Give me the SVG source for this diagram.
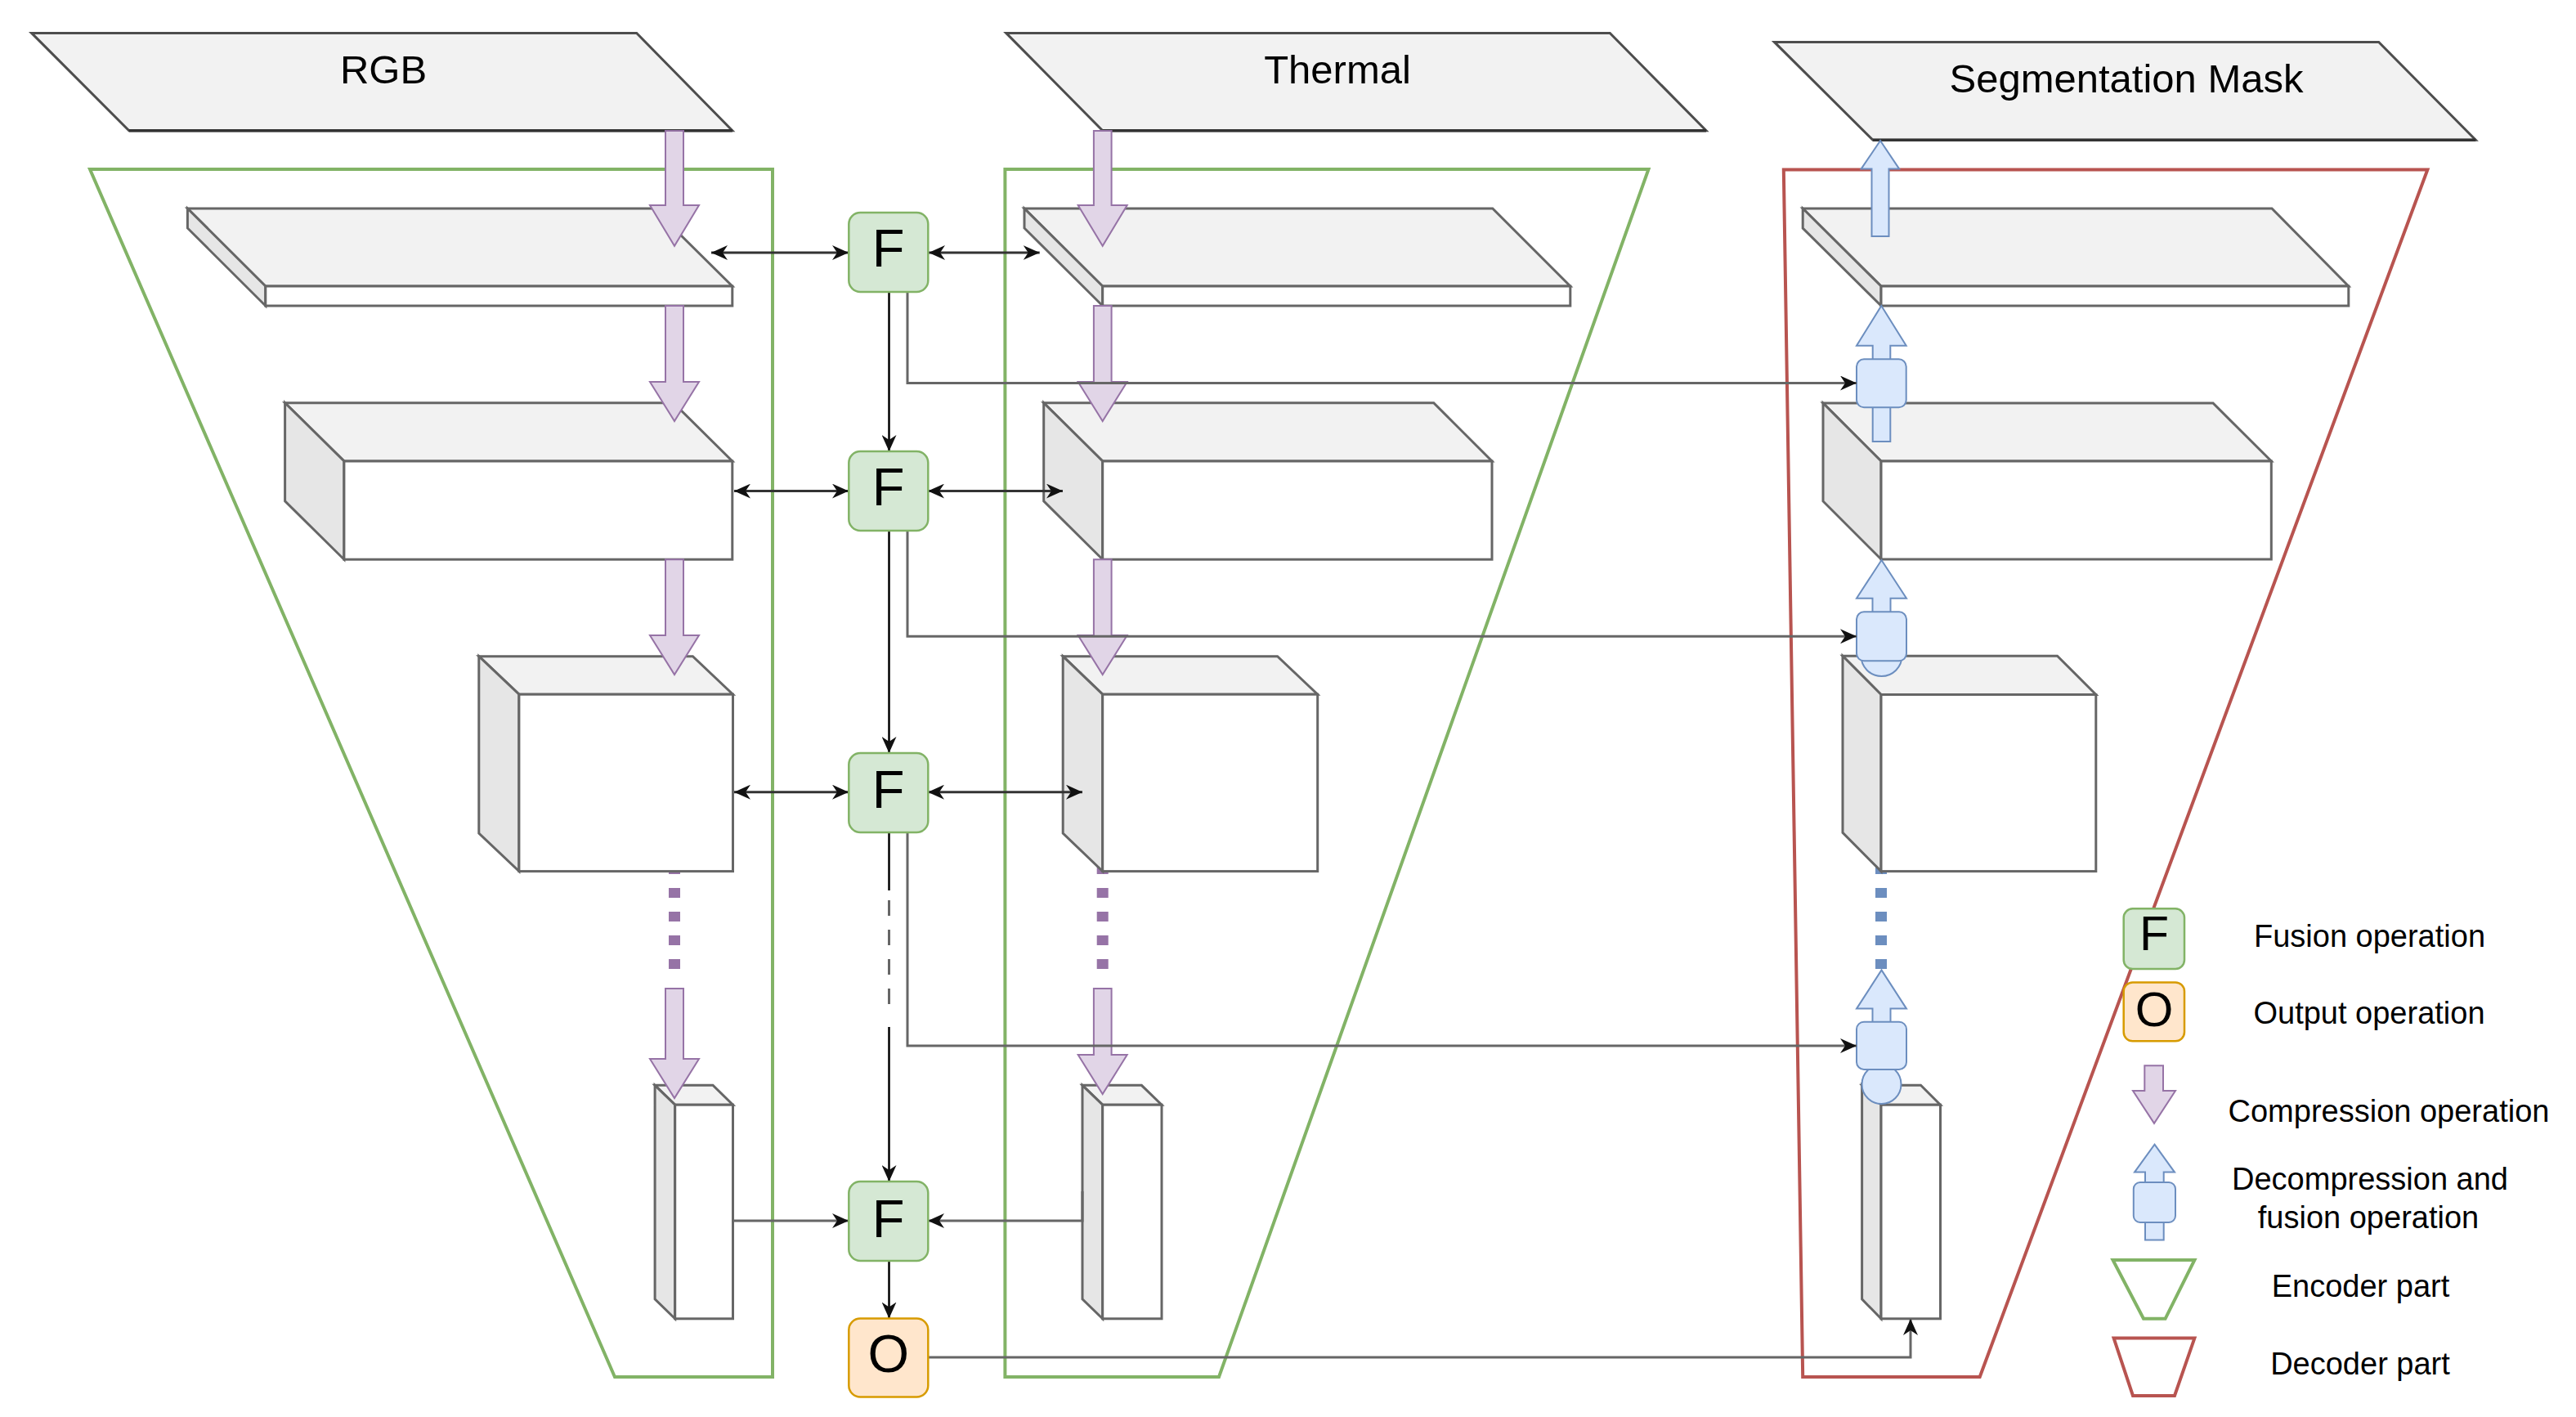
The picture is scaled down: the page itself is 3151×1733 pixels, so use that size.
<svg xmlns="http://www.w3.org/2000/svg" width="3151" height="1733" viewBox="0 0 3151 1733">
<defs>
<style>
.para{fill:#f2f2f2;stroke:#4d4d4d;stroke-width:3;stroke-linejoin:miter}
.top{fill:#f2f2f2;stroke:#666;stroke-width:3;stroke-linejoin:miter}
.side{fill:#e6e6e6;stroke:#666;stroke-width:3;stroke-linejoin:miter}
.front{fill:#fff;stroke:#666;stroke-width:3}
.lbl{font-family:"Liberation Sans",Arial,sans-serif;fill:#000;text-anchor:middle}
.big{font-size:49px}
.op{font-size:65px}
.leg{font-size:38px}
.fbox{fill:#d5e8d4;stroke:#82b366;stroke-width:2.5}
.obox{fill:#ffe6cc;stroke:#d79b00;stroke-width:2.5}
.comp{fill:#e1d5e7;stroke:#9673a6;stroke-width:2}
.dec{fill:#dae8fc;stroke:#6c8ebf;stroke-width:2}
.enc{fill:none;stroke:#82b366;stroke-width:4}
.decp{fill:none;stroke:#b85450;stroke-width:4}
.c{fill:none;stroke:#333;stroke-width:3}
.g{fill:none;stroke:#666;stroke-width:3}
.k{fill:none;stroke:#000;stroke-width:2.5}
</style>
<marker id="arr" markerUnits="userSpaceOnUse" markerWidth="20" markerHeight="18" viewBox="0 0 20 18" refX="20" refY="9" orient="auto-start-reverse">
<path d="M0,0 L20,9 L0,18 L6,9 Z" fill="#111"/>
</marker>
</defs>

<g id="encoder-rgb-frame"><polygon class="enc" points="110,207 945,207 945,1684 752,1684"/></g>
<g id="encoder-thermal-frame"><polygon class="enc" points="1229.4,207 2016.5,207 1491,1684 1229.4,1684"/></g>
<g id="decoder-frame"><polygon class="decp" points="2181.8,207.5 2969.4,207.5 2421.7,1684 2205.2,1684"/></g>

<g id="input-rgb">
<polygon class="para" points="38.6,40.4 778.7,40.4 895.8,159.8 157.8,159.8"/>
<line x1="157.8" y1="159.8" x2="895.8" y2="159.8" stroke="#333" stroke-width="3.5"/>
<text class="lbl big" x="469" y="102">RGB</text>
</g>
<g id="input-thermal">
<polygon class="para" points="1230.7,40.4 1969.3,40.4 2087,159.8 1348.7,159.8"/>
<line x1="1348.7" y1="159.8" x2="2087" y2="159.8" stroke="#333" stroke-width="3.5"/>
<text class="lbl big" x="1636" y="102">Thermal</text>
</g>
<g id="output-mask">
<polygon class="para" points="2170.4,51.4 2909.7,51.4 3028.3,171.3 2291,171.3"/>
<line x1="2291" y1="171.3" x2="3028.3" y2="171.3" stroke="#333" stroke-width="3.5"/>
<text class="lbl big" x="2601" y="112.5">Segmentation Mask</text>
</g>

<g id="dotted-links">
<line x1="825" y1="1057" x2="825" y2="1185" stroke="#9673a6" stroke-width="14" stroke-dasharray="12 17"/>
<line x1="1348.7" y1="1057" x2="1348.7" y2="1185" stroke="#9673a6" stroke-width="14" stroke-dasharray="12 17"/>
<line x1="2301" y1="1057" x2="2301" y2="1185" stroke="#6c8ebf" stroke-width="14" stroke-dasharray="12 17"/>
</g>

<!-- RGB encoder layers -->
<g id="rgb-l1">
<polygon class="top" points="229.4,255 799.7,255 895.8,350 324.8,350"/>
<polygon class="side" points="229.4,255 324.8,350 324.8,374 229.4,279"/>
<rect class="front" x="324.8" y="350" width="571" height="24"/>
</g>
<g id="rgb-l2">
<polygon class="top" points="348.6,492.7 823.8,492.7 895.8,564 420.9,564"/>
<polygon class="side" points="348.6,492.7 420.9,564 420.9,684.2 348.6,612.9"/>
<rect class="front" x="420.9" y="564" width="474.9" height="120.2"/>
</g>
<g id="rgb-l3">
<polygon class="top" points="585.8,802.7 847.4,802.7 896.5,849.2 634.9,849.2"/>
<polygon class="side" points="585.8,802.7 634.9,849.2 634.9,1065.6 585.8,1019.1"/>
<rect class="front" x="634.9" y="849.2" width="261.6" height="216.4"/>
</g>
<g id="rgb-l4">
<polygon class="top" points="801.1,1327.3 872,1327.3 896.5,1351.2 825.7,1351.2"/>
<polygon class="side" points="801.1,1327.3 825.7,1351.2 825.7,1612.8 801.1,1588.9"/>
<rect class="front" x="825.7" y="1351.2" width="70.8" height="261.6"/>
</g>

<!-- Thermal encoder layers -->
<g id="thermal-l1">
<polygon class="top" points="1253,255 1825.8,255 1920.8,350 1348.7,350"/>
<polygon class="side" points="1253,255 1348.7,350 1348.7,374 1253,279"/>
<rect class="front" x="1348.7" y="350" width="572.1" height="24"/>
</g>
<g id="thermal-l2">
<polygon class="top" points="1276.7,492.7 1753.7,492.7 1825,564 1348.7,564"/>
<polygon class="side" points="1276.7,492.7 1348.7,564 1348.7,684.2 1276.7,612.9"/>
<rect class="front" x="1348.7" y="564" width="476.3" height="120.2"/>
</g>
<g id="thermal-l3">
<polygon class="top" points="1300.2,802.7 1562.6,802.7 1611.7,849.2 1348.7,849.2"/>
<polygon class="side" points="1300.2,802.7 1348.7,849.2 1348.7,1065.6 1300.2,1019.1"/>
<rect class="front" x="1348.7" y="849.2" width="263" height="216.4"/>
</g>
<g id="thermal-l4">
<polygon class="top" points="1324,1327.3 1396.4,1327.3 1421,1351.2 1348.7,1351.2"/>
<polygon class="side" points="1324,1327.3 1348.7,1351.2 1348.7,1612.8 1324,1588.9"/>
<rect class="front" x="1348.7" y="1351.2" width="72.3" height="261.6"/>
</g>

<!-- Decoder layers -->
<g id="dec-l1">
<polygon class="top" points="2205.2,255 2779,255 2872.8,350 2301,350"/>
<polygon class="side" points="2205.2,255 2301,350 2301,374 2205.2,279"/>
<rect class="front" x="2301" y="350" width="571.8" height="24"/>
</g>
<g id="dec-l2">
<polygon class="top" points="2230,493 2707,493 2778.3,564 2301,564"/>
<polygon class="side" points="2230,493 2301,564 2301,684 2230,613"/>
<rect class="front" x="2301" y="564" width="477.3" height="120"/>
</g>
<g id="dec-l3">
<polygon class="top" points="2254,802.2 2516.5,802.2 2563.8,849.5 2301,849.5"/>
<polygon class="side" points="2254,802.2 2301,849.5 2301,1065.6 2254,1018.3"/>
<rect class="front" x="2301" y="849.5" width="262.8" height="216.1"/>
</g>
<g id="dec-l4">
<polygon class="top" points="2277.6,1327.3 2349.5,1327.3 2373.5,1351.2 2301,1351.2"/>
<polygon class="side" points="2277.6,1327.3 2301,1351.2 2301,1612.8 2277.6,1588.9"/>
<rect class="front" x="2301" y="1351.2" width="72.5" height="261.6"/>
</g>

<!-- Compression arrows -->
<g id="compress-rgb">
<polygon class="comp" points="814,160 836,160 836,251 855,251 825,300.8 795,251 814,251"/>
<polygon class="comp" points="814,374 836,374 836,467 855,467 825,515 795,467 814,467"/>
<polygon class="comp" points="814,684.2 836,684.2 836,777 855,777 825,825 795,777 814,777"/>
<polygon class="comp" points="814,1209 836,1209 836,1295 855,1295 825,1343 795,1295 814,1295"/>
</g>
<g id="compress-thermal">
<polygon class="comp" points="1337.9,160 1359.6,160 1359.6,251 1378.7,251 1348.7,300.8 1318.7,251 1337.9,251"/>
<polygon class="comp" points="1337.9,374 1359.6,374 1359.6,467 1378.7,467 1348.7,515 1318.7,467 1337.9,467"/>
<polygon class="comp" points="1337.9,684.2 1359.6,684.2 1359.6,777 1378.7,777 1348.7,825 1318.7,777 1337.9,777"/>
<polygon class="comp" points="1337.9,1209 1359.6,1209 1359.6,1290 1378.7,1290 1348.7,1338 1318.7,1290 1337.9,1290"/>
</g>

<!-- Decompression and fusion elements -->
<g id="decomp-1">
<polygon class="dec" points="2300,172 2323.2,206.6 2310.5,206.6 2310.5,289 2289.5,289 2289.5,206.6 2276.6,206.6"/>
</g>
<g id="decomp-2">
<rect class="dec" x="2290.7" y="490" width="21.6" height="50"/>
<polygon class="dec" points="2301.3,374 2331.7,422.7 2312.3,422.7 2312.3,442 2290.7,442 2290.7,422.7 2271,422.7"/>
<rect class="dec" x="2271" y="439.3" width="60.7" height="59" rx="9"/>
</g>
<g id="decomp-3">
<circle class="dec" cx="2301.5" cy="802" r="25"/>
<polygon class="dec" points="2301.5,685 2332,731.7 2312.5,731.7 2312.5,751 2290.5,751 2290.5,731.7 2271,731.7"/>
<rect class="dec" x="2271" y="748.3" width="61" height="60" rx="9"/>
</g>
<g id="decomp-4">
<circle class="dec" cx="2301.5" cy="1326" r="24"/>
<polygon class="dec" points="2301.5,1186.4 2332,1233.6 2312.5,1233.6 2312.5,1252 2290.5,1252 2290.5,1233.6 2271,1233.6"/>
<rect class="dec" x="2271" y="1249.7" width="61" height="58.2" rx="9"/>
</g>

<!-- Connectors -->
<g id="connectors">
<line class="c" x1="870" y1="309" x2="1038" y2="309" marker-start="url(#arr)" marker-end="url(#arr)"/>
<line class="c" x1="1136" y1="309" x2="1271.7" y2="309" marker-start="url(#arr)" marker-end="url(#arr)"/>
<line class="c" x1="898" y1="600.6" x2="1038" y2="600.6" marker-start="url(#arr)" marker-end="url(#arr)"/>
<line class="c" x1="1135" y1="600.6" x2="1300" y2="600.6" marker-start="url(#arr)" marker-end="url(#arr)"/>
<line class="c" x1="898" y1="968.7" x2="1038" y2="968.7" marker-start="url(#arr)" marker-end="url(#arr)"/>
<line class="c" x1="1135" y1="968.7" x2="1324" y2="968.7" marker-start="url(#arr)" marker-end="url(#arr)"/>
<path class="g" d="M896.5,1470 L896.5,1493 L1038,1493" marker-end="url(#arr)"/>
<path class="g" d="M1324,1457 L1324,1493 L1135,1493" marker-end="url(#arr)"/>
<line class="k" x1="1087.5" y1="357" x2="1087.5" y2="552" marker-end="url(#arr)"/>
<line class="k" x1="1087.5" y1="649" x2="1087.5" y2="921" marker-end="url(#arr)"/>
<line class="k" x1="1087.5" y1="1018" x2="1087.5" y2="1089"/>
<line x1="1087.5" y1="1101" x2="1087.5" y2="1234" stroke="#666" stroke-width="3" stroke-dasharray="19 17"/>
<line class="k" x1="1087.5" y1="1256" x2="1087.5" y2="1445" marker-end="url(#arr)"/>
<line class="k" x1="1087.5" y1="1542" x2="1087.5" y2="1612.5" marker-end="url(#arr)"/>
<path class="g" d="M1110,357 L1110,468.5 L2271,468.5" marker-end="url(#arr)"/>
<path class="g" d="M1110,649 L1110,778.3 L2271,778.3" marker-end="url(#arr)"/>
<path class="g" d="M1110,1018 L1110,1279 L2271,1279" marker-end="url(#arr)"/>
<path class="g" d="M1135,1660 L2337,1660 L2337,1613" marker-end="url(#arr)"/>
</g>

<!-- Operation nodes -->
<g id="fuse-1"><rect class="fbox" x="1038.3" y="260" width="97" height="97" rx="14"/><text class="lbl op" x="1086.7" y="326">F</text></g>
<g id="fuse-2"><rect class="fbox" x="1038.3" y="552" width="97" height="97" rx="14"/><text class="lbl op" x="1086.7" y="618">F</text></g>
<g id="fuse-3"><rect class="fbox" x="1038.3" y="921" width="97" height="97" rx="14"/><text class="lbl op" x="1086.7" y="988">F</text></g>
<g id="fuse-4"><rect class="fbox" x="1038.3" y="1445" width="97" height="97" rx="14"/><text class="lbl op" x="1086.7" y="1513">F</text></g>
<g id="output-op"><rect class="obox" x="1038.3" y="1612.5" width="97" height="96" rx="14"/><text class="lbl op" x="1086.7" y="1678">O</text></g>

<!-- Legend -->
<g id="legend-fusion">
<rect class="fbox" x="2597.7" y="1111.3" width="74.3" height="73.8" rx="11"/>
<text class="lbl" style="font-size:59px" x="2635" y="1162">F</text>
<text class="lbl leg" x="2898.5" y="1157.7">Fusion operation</text>
</g>
<g id="legend-output">
<rect class="obox" x="2597.7" y="1201.5" width="74.3" height="71.8" rx="11"/>
<text class="lbl" style="font-size:60px" x="2635" y="1254.5">O</text>
<text class="lbl leg" x="2898" y="1252">Output operation</text>
</g>
<g id="legend-compression">
<polygon class="comp" points="2623.3,1303.2 2646,1303.2 2646,1334 2661,1334 2635,1373.8 2609,1334 2623.3,1334"/>
<text class="lbl leg" x="2922" y="1372">Compression operation</text>
</g>
<g id="legend-decompression">
<rect class="dec" x="2624" y="1490" width="22.7" height="26.5"/>
<polygon class="dec" points="2635.5,1399.6 2660,1433.6 2646.7,1433.6 2646.7,1449 2624,1449 2624,1433.6 2611,1433.6"/>
<rect class="dec" x="2609.8" y="1446" width="51.2" height="49" rx="8"/>
<text class="lbl leg" x="2899" y="1455">Decompression and</text>
<text class="lbl leg" x="2897" y="1502">fusion operation</text>
</g>
<g id="legend-encoder">
<polygon class="enc" points="2584.5,1541 2684.4,1541 2648.6,1612.8 2622,1612.8"/>
<text class="lbl leg" x="2887.5" y="1586">Encoder part</text>
</g>
<g id="legend-decoder">
<polygon class="decp" points="2585.6,1636.6 2684.4,1636.6 2660,1707 2609,1707"/>
<text class="lbl leg" x="2887" y="1680.5">Decoder part</text>
</g>
</svg>
